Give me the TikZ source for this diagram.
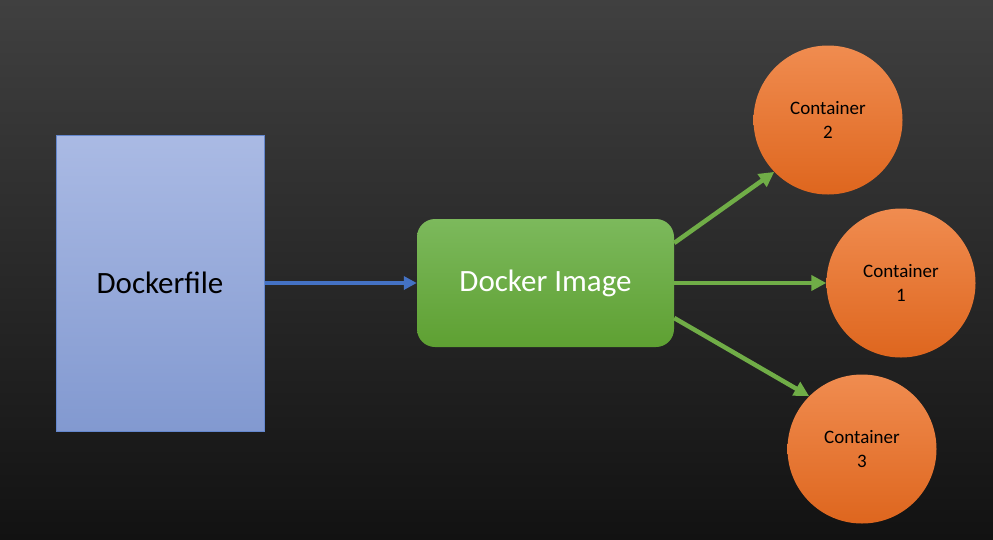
\documentclass[tikz,border=0pt]{standalone}
\usepackage{fontspec}
\setmainfont{Carlito}
\usetikzlibrary{arrows.meta,shapes.geometric}
\definecolor{bgtop}{RGB}{64,64,64}
\definecolor{bgbot}{RGB}{18,18,18}
\definecolor{dftop}{RGB}{170,186,228}
\definecolor{dfbot}{RGB}{130,153,208}
\definecolor{dfedge}{RGB}{100,135,205}
\definecolor{imtop}{RGB}{124,185,92}
\definecolor{imbot}{RGB}{94,160,50}
\definecolor{cttop}{RGB}{240,140,80}
\definecolor{ctbot}{RGB}{222,102,30}
\definecolor{bluearrow}{RGB}{68,114,196}
\definecolor{greenarrow}{RGB}{112,173,71}
\tikzset{
  filebox/.style={rectangle, draw=dfedge, line width=1pt, top color=dftop, bottom color=dfbot,
    minimum width=208pt, minimum height=296pt, inner sep=0pt,
    font=\fontsize{31}{36}\selectfont, text=black},
  imagebox/.style={rectangle, rounded corners=18pt, top color=imtop, bottom color=imbot,
    minimum width=257pt, minimum height=128pt, inner sep=0pt,
    font=\fontsize{31}{36}\selectfont, text=white},
  ctcircle/.style={circle, top color=cttop, bottom color=ctbot, minimum size=149pt, inner sep=0pt,
    align=center, font=\fontsize{19}{24}\selectfont, text=black},
  bluelink/.style={draw=bluearrow, line width=3.5pt, -{Triangle[length=13pt,width=13pt]}},
  greenlink/.style={draw=greenarrow, line width=4.5pt, -{Triangle[length=15pt,width=15pt]}},
}
\begin{document}
\begin{tikzpicture}[x=1pt,y=-1pt]
\path[top color=bgtop, bottom color=bgbot] (0,0) rectangle (993,539);
\useasboundingbox (0,0) rectangle (993,539);
\node[filebox] (df) at (160,283) {Dockerfile};
\node[imagebox] (img) at (545.5,283) {Docker Image};
\node[ctcircle] (c2) at (828,120) {Container\\2};
\node[ctcircle] (c1) at (901,283) {Container\\1};
\node[ctcircle] (c3) at (862,449) {Container\\3};
\draw[bluelink] (df.east) -- (img.west);
\draw[greenlink] ([yshift=40pt]img.east) -- (c2.224);
\draw[greenlink] (img.east) -- (c1);
\draw[greenlink] ([yshift=-35pt]img.east) -- (c3.135);
\end{tikzpicture}
\end{document}
